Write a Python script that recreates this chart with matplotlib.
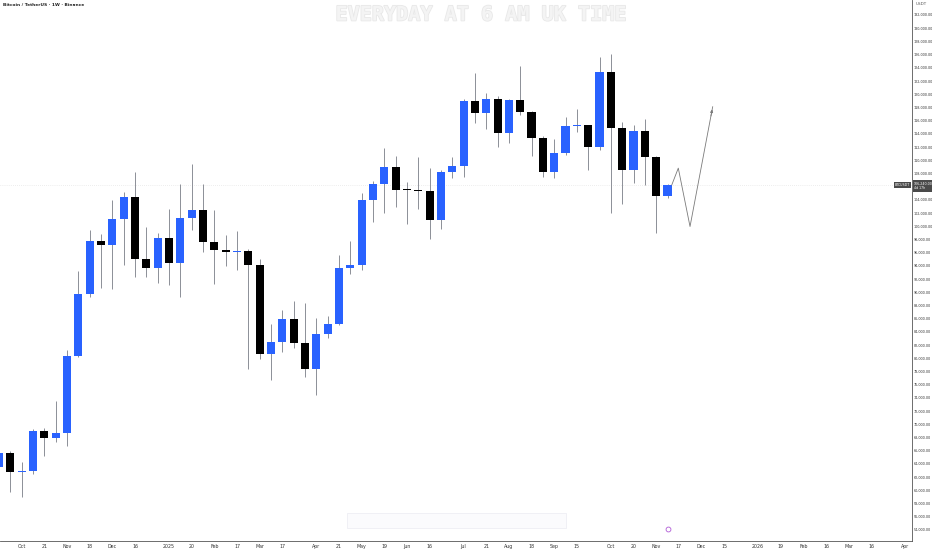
import numpy as np
import pandas as pd
import matplotlib
matplotlib.use("Agg")
import matplotlib.pyplot as plt
import matplotlib.dates as mdates
import matplotlib.patheffects as pe

# weekly BTC/USDT candles, week of 2024-09-23 .. 2025-11-10
weeks = pd.date_range("2024-09-23", periods=60, freq="W-MON")
opens = [63570, 65590, 62710, 62850, 68980, 67970, 68720, 80340, 89780, 97810,
         97100, 101040, 104380, 95080, 93670, 98270, 94480, 101250, 102510, 97610,
         96400, 96090, 96250, 94180, 80690, 82460, 85990, 82310, 78320, 83670,
         85140, 93670, 94180, 104020, 106350, 108920, 105600, 105500, 105300, 100890,
         108260, 109120, 118970, 117100, 119270, 114070, 119120, 117300, 113420, 108160,
         111040, 115180, 115300, 112050, 123360, 114830, 108520, 114480, 110440, 104630]
highs = [66500, 66000, 64330, 69300, 69480, 73570, 81250, 93220, 99430, 98820,
         103970, 105130, 108160, 99830, 98900, 102560, 106400, 109430, 106400, 102460,
         98670, 99330, 96500, 95000, 85140, 87310, 88670, 88420, 86040, 86400,
         95640, 97760, 104980, 106800, 111800, 110640, 106750, 110440, 108770, 108500,
         110440, 119200, 123160, 120230, 119730, 119300, 124320, 117500, 113600, 113210,
         116500, 117760, 115400, 125690, 126090, 115840, 115330, 116240, 110600, 106400]
lows = [62700, 59780, 58930, 62400, 65240, 67360, 66750, 80150, 89330, 90690,
        90440, 94120, 92260, 92260, 91450, 91150, 89230, 99430, 96140, 91200,
        94020, 93370, 78320, 79880, 76700, 81000, 81600, 77110, 74430, 83070,
        85000, 92760, 93370, 100690, 101950, 102960, 100290, 102610, 98110, 99580,
        107360, 107510, 115590, 114680, 111950, 112560, 116850, 110690, 107410, 107250,
        110790, 114320, 108520, 111550, 101950, 103370, 106600, 106240, 98920, 104220]
closes = [65590, 62710, 62850, 68980, 67970, 68720, 80340, 89780, 97810, 97100,
          101040, 104380, 95080, 93670, 98270, 94480, 101250, 102510, 97610, 96400,
          96090, 96250, 94180, 80690, 82460, 85990, 82310, 78320, 83670, 85140,
          93670, 94180, 104020, 106350, 108920, 105490, 105500, 105300, 100890, 108260,
          109120, 118970, 117100, 119270, 114070, 119120, 117300, 113420, 108160, 111040,
          115180, 115300, 112050, 123360, 114830, 108520, 114480, 110440, 104630, 106240]

# drawn projection path
proj_dates = ["2025-11-12 15:00", "2025-11-16 16:00", "2025-11-23 22:00", "2025-12-07 22:00"]
proj_prices = [106240, 108800, 99950, 118100]

tick_dates = ["2024-10-07", "2024-10-21", "2024-11-04", "2024-11-18", "2024-12-02", "2024-12-16",
              "2025-01-06", "2025-01-20", "2025-02-03", "2025-02-17", "2025-03-03", "2025-03-17",
              "2025-04-07", "2025-04-21", "2025-05-05", "2025-05-19", "2025-06-02", "2025-06-16",
              "2025-07-07", "2025-07-21", "2025-08-04", "2025-08-18", "2025-09-01", "2025-09-15",
              "2025-10-06", "2025-10-20", "2025-11-03", "2025-11-17", "2025-12-01", "2025-12-15",
              "2026-01-05", "2026-01-19", "2026-02-02", "2026-02-16", "2026-03-02", "2026-03-16",
              "2026-04-06"]
tick_labels = ["Oct", "21", "Nov", "18", "Dec", "16", "2025", "20", "Feb", "17", "Mar", "17",
               "Apr", "21", "May", "19", "Jun", "16", "Jul", "21", "Aug", "18", "Sep", "15",
               "Oct", "20", "Nov", "17", "Dec", "15", "2026", "19", "Feb", "16", "Mar", "16", "Apr"]
price_ticks = list(range(54000, 132001, 2000))

UP = "#2962ff"
DOWN = "#000000"
WICK = "#8c8f97"

fig = plt.figure(figsize=(9.32, 5.5), dpi=100)
ax = fig.add_axes([0, 9 / 550, 912 / 932, 541 / 550])

x = mdates.date2num(weeks.to_pydatetime())
o = np.array(opens); h = np.array(highs); l = np.array(lows); c = np.array(closes)
up = c >= o
colors = np.where(up, UP, DOWN)

ax.vlines(x, l, h, color=WICK, linewidth=0.7, zorder=2)
body_lo = np.minimum(o, c)
body_h = np.maximum(np.abs(c - o), 120)
ax.bar(x, body_h, bottom=body_lo, width=5.0, color=colors, linewidth=0, zorder=3)

# current price line
last = closes[-1]
ax.axhline(last, color="#dcdcdc", linewidth=0.5, linestyle=(0, (1, 2)), zorder=1)

# projection
px = mdates.date2num(pd.to_datetime(proj_dates).to_pydatetime())
ax.plot(px, proj_prices, color="#7a7a7a", linewidth=0.6, zorder=4)
ax.annotate("", xy=(px[-1], proj_prices[-1]), xytext=(px[-2] + (px[-1] - px[-2]) * 0.9,
            proj_prices[-2] + (proj_prices[-1] - proj_prices[-2]) * 0.9),
            arrowprops=dict(arrowstyle="-|>", color="#7a7a7a", lw=0.6, mutation_scale=4))

w0 = mdates.date2num(pd.Timestamp("2024-10-07").to_pydatetime())
ax.set_xlim(w0 - 1.915 * 7, w0 + 78.58 * 7)
ax.set_ylim(52311, 134272)

ax.set_xticks(mdates.date2num(pd.to_datetime(tick_dates).to_pydatetime()))
ax.set_xticklabels(tick_labels)
ax.yaxis.tick_right()
ax.set_yticks(price_ticks)
# the 106,000 label sits under the last-price box, as in the reference
ax.set_yticklabels(["" if abs(v - last) < 1000 else f"{v:,.2f}" for v in price_ticks])
ax.tick_params(axis="x", length=0, labelsize=3.4, colors="#333333", pad=2)
ax.tick_params(axis="y", length=0, labelsize=2.4, colors="#333333", pad=1.5)
for s in ["top", "left"]:
    ax.spines[s].set_visible(False)
ax.spines["right"].set_color("#555555")
ax.spines["bottom"].set_color("#555555")
ax.spines["right"].set_linewidth(0.6)
ax.spines["bottom"].set_linewidth(0.6)

# header text
fig.text(3 / 932, 1 - 5 / 550, "Bitcoin / TetherUS · 1W · Binance", fontsize=3.2,
         color="#222222", va="center", ha="left", fontweight="bold")
fig.text(916 / 932, 1 - 4 / 550, "USDT", fontsize=3.0, color="#555555", va="center", ha="left")

# watermark
wm = fig.text(481 / 932, 1 - 15 / 550, "EVERYDAY AT 6 AM UK TIME", fontsize=14.5,
              color="#f4f4f4", ha="center", va="center", fontweight="bold", family="DejaVu Sans Mono")
wm.set_path_effects([pe.withStroke(linewidth=1.2, foreground="#e8e8e8")])
fig.patches.append(plt.Rectangle((347 / 932, 1 - 528 / 550), 219 / 932, 15 / 550,
                                 transform=fig.transFigure, facecolor="#fbfbfd",
                                 edgecolor="#eeeef4", linewidth=0.6))

# price labels
fig.text(914 / 932, 1 - 186 / 550, f"{last:,.2f}\n4d 17h", fontsize=2.3, color="white",
         ha="left", va="center", linespacing=1.15,
         bbox=dict(boxstyle="square,pad=0.4", facecolor="#4a4a4a", edgecolor="none"))
fig.text(910 / 932, 1 - 185 / 550, "BTCUSDT", fontsize=2.3, color="white", ha="right",
         va="center", bbox=dict(boxstyle="square,pad=0.3", facecolor="#4a4a4a", edgecolor="none"))

# event marker
ax.plot([mdates.date2num(pd.Timestamp("2025-11-10").to_pydatetime())], [54100], marker="o",
        markersize=3.5, markerfacecolor="white", markeredgecolor="#b05bd6", markeredgewidth=0.6,
        clip_on=False, zorder=5)

fig.savefig("out.png", dpi=100)
